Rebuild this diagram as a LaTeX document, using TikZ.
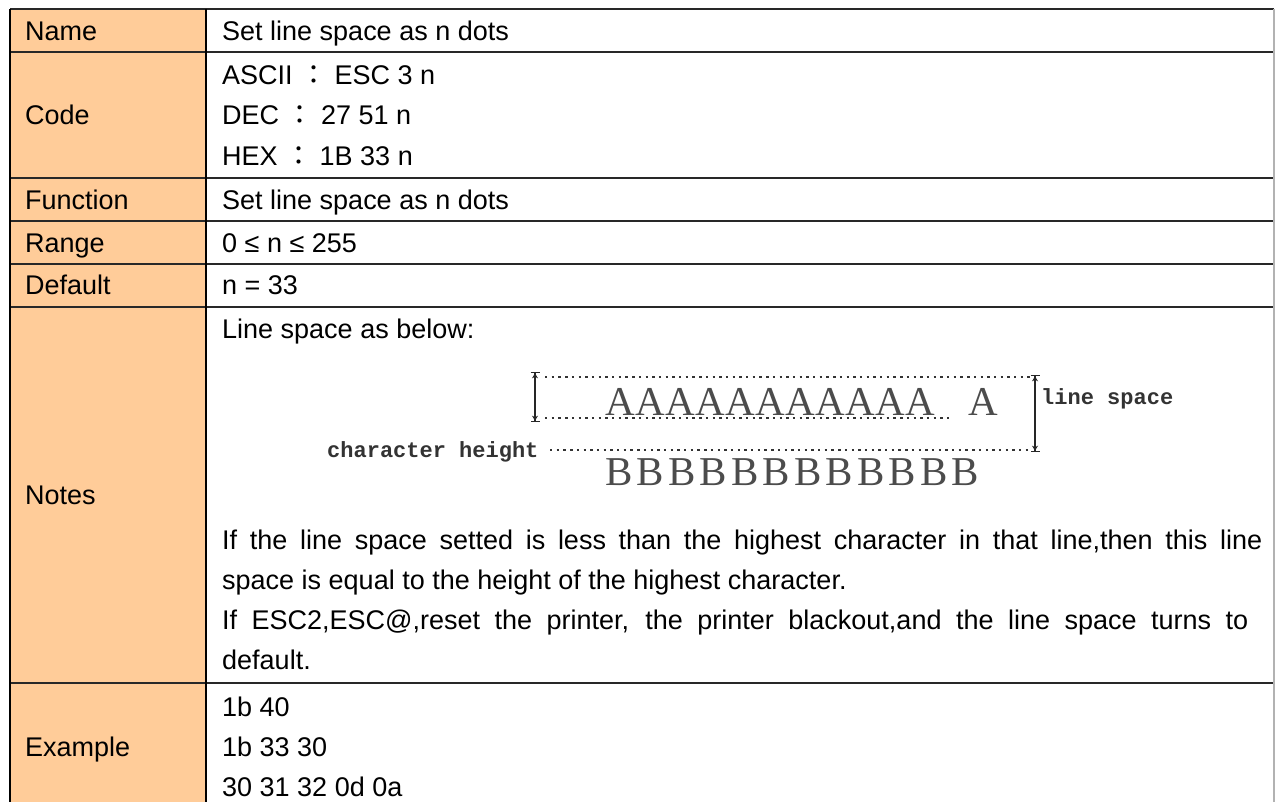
\documentclass[tikz,border=0pt]{standalone}
\usepackage{fontspec}
\setmainfont{Liberation Sans}
\newfontfamily\serifA{Liberation Serif}
\newfontfamily\monoA{Liberation Mono}
\newfontfamily\cjk{Noto Sans CJK TC}
\usetikzlibrary{arrows.meta}
\definecolor{hdr}{RGB}{255,204,153}
\definecolor{grid}{RGB}{40,40,40}
\tikzset{
  txt/.style={anchor=base west, inner sep=0pt, font=\fontsize{27}{40}\selectfont},
  gridline/.style={draw=grid, line width=1.5pt},
  dotline/.style={draw=black!80, line width=2.6pt, dash pattern=on 2.4pt off 4.3pt},
  mono/.style={anchor=base west, inner sep=0pt, font=\monoA\bfseries\fontsize{22}{24}\selectfont, text=black!80},
  bigletter/.style={anchor=base west, inner sep=0pt, font=\serifA\fontsize{41}{44}\selectfont, text=black!70},
  dim/.style={draw=black!85, line width=1.3pt, {Bar[width=9pt,line width=1.3pt]Stealth[length=5pt,width=6pt]}-{Stealth[length=5pt,width=6pt]Bar[width=9pt,line width=1.3pt]}}
}
\begin{document}
\begin{tikzpicture}[x=1pt,y=-1pt]
\path[use as bounding box, fill=white] (0,0) rectangle (1275,802);
% header column fill
\fill[hdr] (10,9) rectangle (206,802);
% grid
\foreach \yy in {9,52,178,221,264,307,683}{
  \draw[gridline] (10,\yy) -- (1274,\yy);
}
\draw[draw=black, line width=1.5pt] (10,9) -- (10,802);
\draw[draw=black, line width=1.5pt] (206,9) -- (206,802);
\draw[draw=black!30, line width=1.5pt] (1274,9) -- (1274,802);

% left column labels
\node[txt] (lname) at (25,40.5) {Name};
\node[txt] (lcode) at (25,124.5) {Code};
\node[txt] (lfunc) at (25,209.5) {Function};
\node[txt] (lrange) at (25,252.5) {Range};
\node[txt] (ldef) at (25,294.5) {Default};
\node[txt] (lnotes) at (25,504.5) {Notes};
\node[txt] (lex) at (25,756.5) {Example};

% right column values
\node[txt] (vname) at (222,40.5) {Set line space as n dots};
\node[txt] (vc1) at (222,84.5) {ASCII {\cjk ：} ESC 3 n};
\node[txt] (vc2) at (222,124.5) {DEC {\cjk ：} 27 51 n};
\node[txt] (vc3) at (222,166) {HEX {\cjk ：} 1B 33 n};
\node[txt] (vfunc) at (222,209.5) {Set line space as n dots};
\node[txt] (vrange) at (222,252.5) {0 ≤ n ≤ 255};
\node[txt] (vdef) at (222,294.5) {n = 33};
\node[txt] (vn0) at (222,338.5) {Line space as below:};
\node[txt] (vn1) at (222,549.5) {\makebox[1040pt][s]{If the line space setted is less than the highest character in that line,then this line}};
\node[txt] (vn2) at (222,589.5) {space is equal to the height of the highest character.};
\node[txt] (vn3) at (222,629.5) {\makebox[1026pt][s]{If ESC2,ESC@,reset the printer, the printer blackout,and the line space turns to}};
\node[txt] (vn4) at (222,669.5) {default.};
\node[txt] (ve1) at (222,716.5) {1b 40};
\node[txt] (ve2) at (222,756.5) {1b 33 30};
\node[txt] (ve3) at (222,796.5) {30 31 32 0d 0a};

% line space illustration
\coordinate (topL) at (545,377);
\coordinate (topR) at (1030,377);
\coordinate (baseL) at (545,418);
\coordinate (baseR) at (950,418);
\coordinate (chL) at (550,450);
\coordinate (chR) at (1030,450);
\draw[dotline] (topL) -- (topR);
\draw[dotline] (baseL) -- (baseR);
\draw[dotline] (chL) -- (chR);
\coordinate (lbT) at (535,372);
\coordinate (lbB) at (535,422);
\draw[dim] (lbT) -- (lbB);
\coordinate (rbT) at (1035,375);
\coordinate (rbB) at (1035,452);
\draw[dim] (rbT) -- (rbB);
\node[bigletter] (arow) at (605,415) {\foreach \i in {1,...,11}{\makebox[30pt]{A}}};
\node[bigletter] (alast) at (968,415) {A};
\node[bigletter] (brow) at (603,485) {\foreach \i in {1,...,12}{\makebox[31.5pt]{B}}};
\node[mono] (lsp) at (1041,405) {line space};
\node[mono] (chh) at (327,457) {character height};
\end{tikzpicture}
\end{document}
